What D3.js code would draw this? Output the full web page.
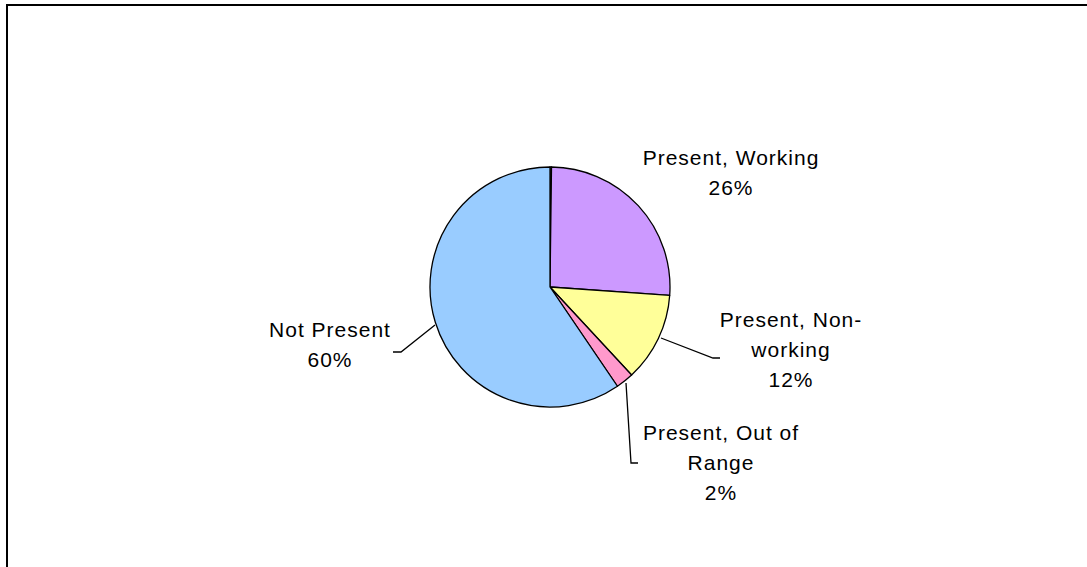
<!DOCTYPE html>
<html>
<head>
<meta charset="utf-8">
<script src="https://cdn.jsdelivr.net/npm/d3@7"></script>
<style>
  html, body { margin: 0; padding: 0; background: #fff; }
  svg { display: block; }
  text { font-family: Arial, "Liberation Sans", sans-serif; fill: #000; }
</style>
</head>
<body>
<svg id="chart" width="1087" height="567"></svg>
<script>
// ---- data ----
const categories = ["", "Present, Working", "Present, Non-working", "Present, Out of Range", "Not Present"];
const values = [0.2, 25.9, 12.0, 2.4, 59.5];
const colors = ["#c0c0c0", "#cc99ff", "#ffff99", "#ff99cc", "#99ccff"];
// label text lines (percent appended from values)
const labelLines = [[], ["Present, Working"], ["Present, Non-", "working"], ["Present, Out of", "Range"], ["Not Present"]];

// ---- layout ----
const W = 1087, H = 567;
const cx = 550, cy = 287, R = 120;
const svg = d3.select("#chart");

// chart frame
svg.append("rect").attr("x", 7).attr("y", 5).attr("width", 1100).attr("height", 600)
  .attr("fill", "none").attr("stroke", "#000").attr("stroke-width", 2);

const total = d3.sum(values);
const pie = d3.pie().sort(null).value(d => d);
const arcs = pie(values);
const arc = d3.arc().innerRadius(0).outerRadius(R);

const g = svg.append("g").attr("transform", `translate(${cx},${cy})`);
g.selectAll("path").data(arcs).join("path")
  .attr("d", arc)
  .attr("fill", (d, i) => colors[i])
  .attr("stroke", "#000").attr("stroke-width", 1.3).attr("stroke-linejoin", "round");

// label positions (relative to center) and leader line routing
const labelPos = [null, {x: 181, y: -122}, {x: 241, y: 40}, {x: 171, y: 153}, {x: -220, y: 50}];
const leaderPts = [null, null,
  [[111, 51], [163, 71], [170, 71]],
  [[76, 96], [81, 176], [88, 176]],
  [[-115, 38], [-149, 65], [-157, 65]]];

const fs = 21, lh = 30;
arcs.forEach((a, i) => {
  if (!labelPos[i]) return;
  const lines = labelLines[i].concat([Math.round(values[i] / total * 100) + "%"]);
  const t = g.append("text").attr("text-anchor", "middle")
    .style("font-size", fs + "px").style("letter-spacing", "1px");
  lines.forEach((s, k) => {
    t.append("tspan").attr("x", labelPos[i].x).attr("y", labelPos[i].y + k * lh).text(s);
  });
  if (leaderPts[i]) {
    g.append("path").attr("d", d3.line()(leaderPts[i]))
      .attr("fill", "none").attr("stroke", "#000").attr("stroke-width", 1.3);
  }
});
</script>
</body>
</html>
